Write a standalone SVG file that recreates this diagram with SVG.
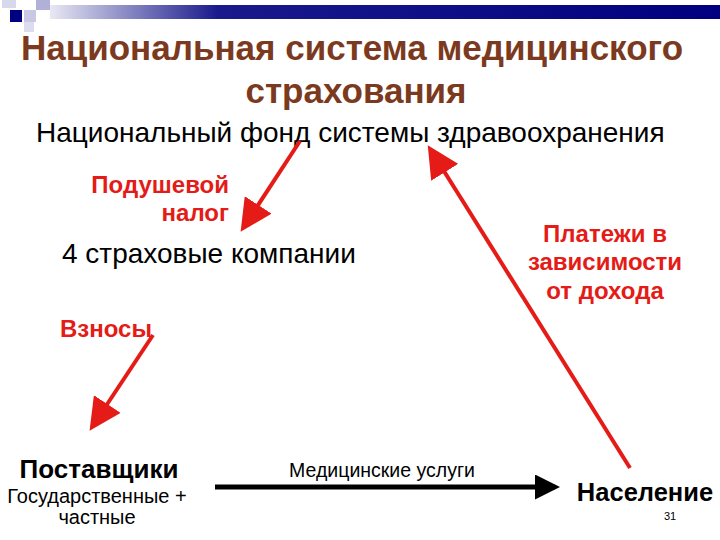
<svg xmlns="http://www.w3.org/2000/svg" width="720" height="540" viewBox="0 0 720 540">
<defs>
<linearGradient id="g" x1="0" x2="1"><stop offset="0" stop-color="#e8e8f4"/><stop offset="0.25" stop-color="#1a1a8c"/><stop offset="1" stop-color="#000080"/></linearGradient>
<marker id="rh" markerWidth="8" markerHeight="8" refX="6" refY="4" orient="auto" markerUnits="strokeWidth"><path d="M0,0 L8,4 L0,8 z" fill="#e41b17"/></marker>
<marker id="bh" markerWidth="5" markerHeight="5" refX="4" refY="2.5" orient="auto" markerUnits="strokeWidth"><path d="M0,0 L5,2.5 L0,5 z" fill="#000"/></marker>
<style>
text{font-family:"Liberation Sans","DejaVu Sans",sans-serif}
.t{font-size:35px;font-weight:bold;fill:#7b3a20;text-anchor:middle}
.r{font-size:24px;font-weight:bold;fill:#e41b17}
.k{fill:#000}
.ra{stroke:#e41b17;stroke-width:4;fill:none;marker-end:url(#rh)}
</style>
</defs>
<g id="decor">
<rect x="50" y="5" width="670" height="14" fill="url(#g)"/>
<rect x="2" y="0" width="14" height="8" fill="#d8d8ec"/>
<rect x="10" y="10" width="12" height="12" fill="#000080"/>
<rect x="24" y="10" width="12" height="12" fill="#c8c8e4"/>
<rect x="36" y="0" width="14" height="10" fill="#b0b0d8"/>
<rect x="24" y="22" width="10" height="10" fill="#dcdcee"/>
</g>
<g id="title">
<text class="t" x="352" y="60">Национальная система медицинского</text>
<text class="t" x="356" y="103">страхования</text>
</g>
<g id="fund"><text class="k" x="36" y="142" font-size="28">Национальный фонд системы здравоохранения</text></g>
<g id="lbl1"><text class="r" x="229" y="193" text-anchor="end">Подушевой</text><text class="r" x="229" y="221" text-anchor="end">налог</text></g>
<g id="insurers"><text class="k" x="62" y="263" font-size="28">4 страховые компании</text></g>
<g id="lbl2"><text class="r" x="605" y="242" text-anchor="middle">Платежи в</text><text class="r" x="605" y="270" text-anchor="middle">зависимости</text><text class="r" x="605" y="299" text-anchor="middle">от дохода</text></g>
<g id="lbl3"><text class="r" x="60" y="337">Взносы</text></g>
<g id="suppliers"><text class="k" x="99" y="478" font-size="26" font-weight="bold" text-anchor="middle">Поставщики</text>
<text class="k" x="97" y="503" font-size="20" text-anchor="middle">Государственные +</text>
<text class="k" x="97" y="524" font-size="20" text-anchor="middle">частные</text></g>
<g id="services"><text class="k" x="382" y="477" font-size="19.5" text-anchor="middle">Медицинские услуги</text></g>
<g id="population"><text class="k" x="645" y="501" font-size="25.5" font-weight="bold" text-anchor="middle">Население</text>
<text class="k" x="670" y="520" font-size="11" text-anchor="middle">31</text></g>
<g id="connectors">
<line class="ra" x1="300" y1="141" x2="245" y2="225"/>
<line class="ra" x1="153" y1="335" x2="94" y2="424"/>
<line class="ra" x1="630" y1="468" x2="432" y2="152"/>
<line x1="215" y1="487" x2="555" y2="487" stroke="#000" stroke-width="5" marker-end="url(#bh)"/>
</g>
</svg>
